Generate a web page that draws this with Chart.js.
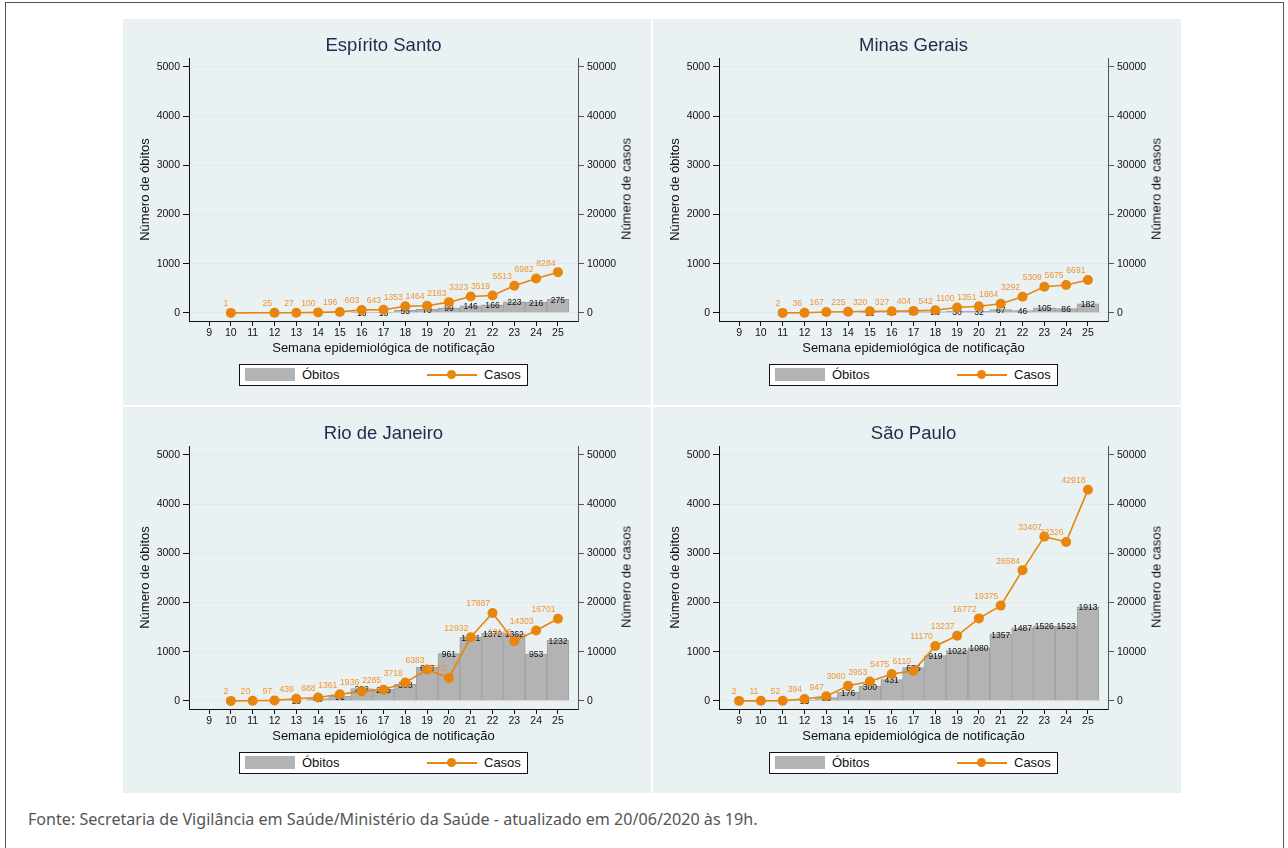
<!DOCTYPE html>
<html>
<head>
<meta charset="utf-8">
<script src="https://cdn.jsdelivr.net/npm/chart.js@4"></script>
<style>
  body { margin:0; background:#fff; width:1288px; height:848px; overflow:hidden; position:relative; font-family:'Liberation Sans', Arial, sans-serif; }
  .frame { position:absolute; left:5px; top:2px; width:1277px; height:900px; border:1px solid #555; }
  .panel { position:absolute; width:528px; height:386px; background:#eaf1f3; }
  .panel canvas { position:absolute; left:0; top:0; }
  .ptitle { position:absolute; left:66px; width:389px; top:15px; text-align:center; font-size:18.5px; color:#1e2b4c; }
  .rtitle { position:absolute; left:503px; top:170px; width:0; height:0; }
  .rtitle span { position:absolute; left:0; top:0; transform:translate(-50%, -50%) rotate(-90deg); white-space:nowrap; font-size:13px; color:#111; }
  .legend { position:absolute; left:116px; top:345px; width:287px; height:20px; border:1px solid #111; background:#fff; font-size:13px; color:#111; }
  .legend .sw { position:absolute; left:5px; top:3px; width:50px; height:13px; background:#b3b3b3; }
  .legend .ln { position:absolute; left:187px; top:9px; width:50px; height:2px; background:#e8850c; }
  .legend .dot { position:absolute; left:207px; top:5px; width:9px; height:9px; border-radius:50%; background:#e8850c; }
  .legend span { position:absolute; top:2px; }
  .fonte { position:absolute; left:28px; top:808px; font-family:'Noto Sans', sans-serif; font-size:16.1px; color:#555; }
</style>
</head>
<body>
<div class="frame"></div>
<div id="panels"></div>
<div class="fonte">Fonte: Secretaria de Vigilância em Saúde/Ministério da Saúde - atualizado em 20/06/2020 às 19h.</div>
<script>
// semanas epidemiológicas 9..25
const semanas = [9, 10, 11, 12, 13, 14, 15, 16, 17, 18, 19, 20, 21, 22, 23, 24, 25];
const leftTicks = [0, 1000, 2000, 3000, 4000, 5000];
const rightTicks = [0, 10000, 20000, 30000, 40000, 50000];

const esCasos  = [null, 1, null, 25, 27, 100, 196, 603, 643, 1353, 1464, 2183, 3323, 3519, 5513, 6982, 8284];
const esObitos = [null, null, null, null, null, null, null, 13, 13, 55, 70, 99, 146, 166, 223, 216, 275];

const mgCasos  = [null, null, 2, 36, 167, 225, 320, 327, 404, 542, 1100, 1351, 1864, 3292, 5309, 5675, 6691];
const mgObitos = [null, null, null, null, null, null, 11, 22, 19, 23, 30, 32, 67, 46, 105, 86, 182];

const rjCasos  = [null, 2, 20, 97, 439, 688, 1361, 1936, 2285, 3718, 6383, 4672, 12932, 17887, 12145, 14303, 16701];
const rjObitos = [null, null, null, null, 10, 45, 91, 252, 235, 338, 683, 961, 1291, 1372, 1362, 953, 1232];

const spCasos  = [2, 11, 52, 394, 947, 3060, 3953, 5475, 6110, 11170, 13237, 16772, 19375, 26584, 33407, 32326, 42918];
const spObitos = [null, null, null, 15, 65, 176, 300, 431, 675, 919, 1022, 1080, 1357, 1487, 1526, 1523, 1913];

const panels = [
  { title: 'Espírito Santo', casos: esCasos, obitos: esObitos, left: 123, top: 19 },
  { title: 'Minas Gerais',   casos: mgCasos, obitos: mgObitos, left: 653, top: 19 },
  { title: 'Rio de Janeiro', casos: rjCasos, obitos: rjObitos, left: 123, top: 407 },
  { title: 'São Paulo',      casos: spCasos, obitos: spObitos, left: 653, top: 407 }
];

const ORANGE = '#e8850c';
const FONT = "'Liberation Sans', Arial, sans-serif";

const toPoints = arr => semanas.map((w, i) => ({ x: w, y: arr[i] })).filter(p => p.y !== null);
const plain = v => String(v);

// rótulos de valores (barras centradas no topo, casos acima/esquerda do ponto)
const valueLabels = {
  id: 'valueLabels',
  afterDatasetDraw(chart, args) {
    const ctx = chart.ctx;
    const meta = args.meta;
    ctx.save();
    ctx.font = '8.6px ' + FONT;
    ctx.textBaseline = 'middle';
    if (meta.type === 'bar') {
      ctx.fillStyle = '#111';
      ctx.textAlign = 'center';
      meta.data.forEach((el, i) => {
        ctx.fillText(String(meta._dataset.data[i].y), el.x, el.y + 1);
      });
    } else {
      ctx.fillStyle = '#ee9533';
      ctx.textAlign = 'right';
      meta.data.forEach((el, i) => {
        ctx.fillText(String(meta._dataset.data[i].y), el.x - 2.5, el.y - 9);
      });
    }
    ctx.restore();
  }
};

const host = document.getElementById('panels');

panels.forEach(p => {
  const div = document.createElement('div');
  div.className = 'panel';
  div.style.left = p.left + 'px';
  div.style.top = p.top + 'px';
  div.innerHTML = `
    <canvas width="528" height="386"></canvas>
    <div class="ptitle">${p.title}</div>
    <div class="rtitle"><span>Número de casos</span></div>
    <div class="legend">
      <div class="sw"></div><span style="left:62px">Óbitos</span>
      <div class="ln"></div><div class="dot"></div><span style="left:244px">Casos</span>
    </div>`;
  host.appendChild(div);

  new Chart(div.querySelector('canvas'), {
    type: 'bar',
    data: {
      datasets: [
        {
          type: 'bar',
          label: 'Óbitos',
          data: toPoints(p.obitos),
          yAxisID: 'yL',
          backgroundColor: '#b3b3b3',
          borderColor: '#a0a0a0',
          borderWidth: 1,
          barPercentage: 1,
          categoryPercentage: 1,
          order: 2
        },
        {
          type: 'line',
          label: 'Casos',
          data: toPoints(p.casos),
          yAxisID: 'yR',
          borderColor: ORANGE,
          backgroundColor: ORANGE,
          borderWidth: 1.6,
          pointRadius: 5,
          pointBorderWidth: 0,
          tension: 0,
          order: 1
        }
      ]
    },
    options: {
      responsive: false,
      animation: false,
      layout: { padding: { top: 39, bottom: 48, left: 0, right: 0 } },
      plugins: { legend: { display: false }, tooltip: { enabled: false } },
      scales: {
        x: {
          type: 'linear',
          offset: false,
          min: 8.08,
          max: 25.92,
          afterBuildTicks: s => { s.ticks = semanas.map(v => ({ value: v })); },
          afterFit: s => { s.height = 36; },
          grid: { drawOnChartArea: false, offset: false, tickLength: 5, tickColor: '#111' },
          border: { color: '#111' },
          ticks: { color: '#111', font: { size: 10.5, family: FONT }, padding: 1, maxRotation: 0, autoSkip: false, callback: plain },
          title: { display: true, text: 'Semana epidemiológica de notificação', color: '#111',
                   font: { size: 13, family: FONT }, padding: { top: 0, bottom: 1 } }
        },
        yL: {
          position: 'left',
          min: -165,
          max: 5183,
          afterBuildTicks: s => { s.ticks = leftTicks.map(v => ({ value: v })); },
          afterFit: s => { s.width = 66; },
          grid: { color: '#e1eaee', tickColor: '#111', tickLength: 6 },
          border: { color: '#111' },
          ticks: { color: '#111', font: { size: 10.5, family: FONT }, padding: 3, callback: plain },
          title: { display: true, text: 'Número de óbitos', color: '#111',
                   font: { size: 13, family: FONT }, padding: { top: 15, bottom: 0 } }
        },
        yR: {
          position: 'right',
          min: -1650,
          max: 51830,
          afterBuildTicks: s => { s.ticks = rightTicks.map(v => ({ value: v })); },
          afterFit: s => { s.width = 73; },
          grid: { drawOnChartArea: false, tickColor: '#555', tickLength: 6 },
          border: { color: '#555' },
          ticks: { color: '#111', font: { size: 10.5, family: FONT }, padding: 3, callback: plain }
        }
      }
    },
    plugins: [valueLabels]
  });
});
</script>
</body>
</html>
